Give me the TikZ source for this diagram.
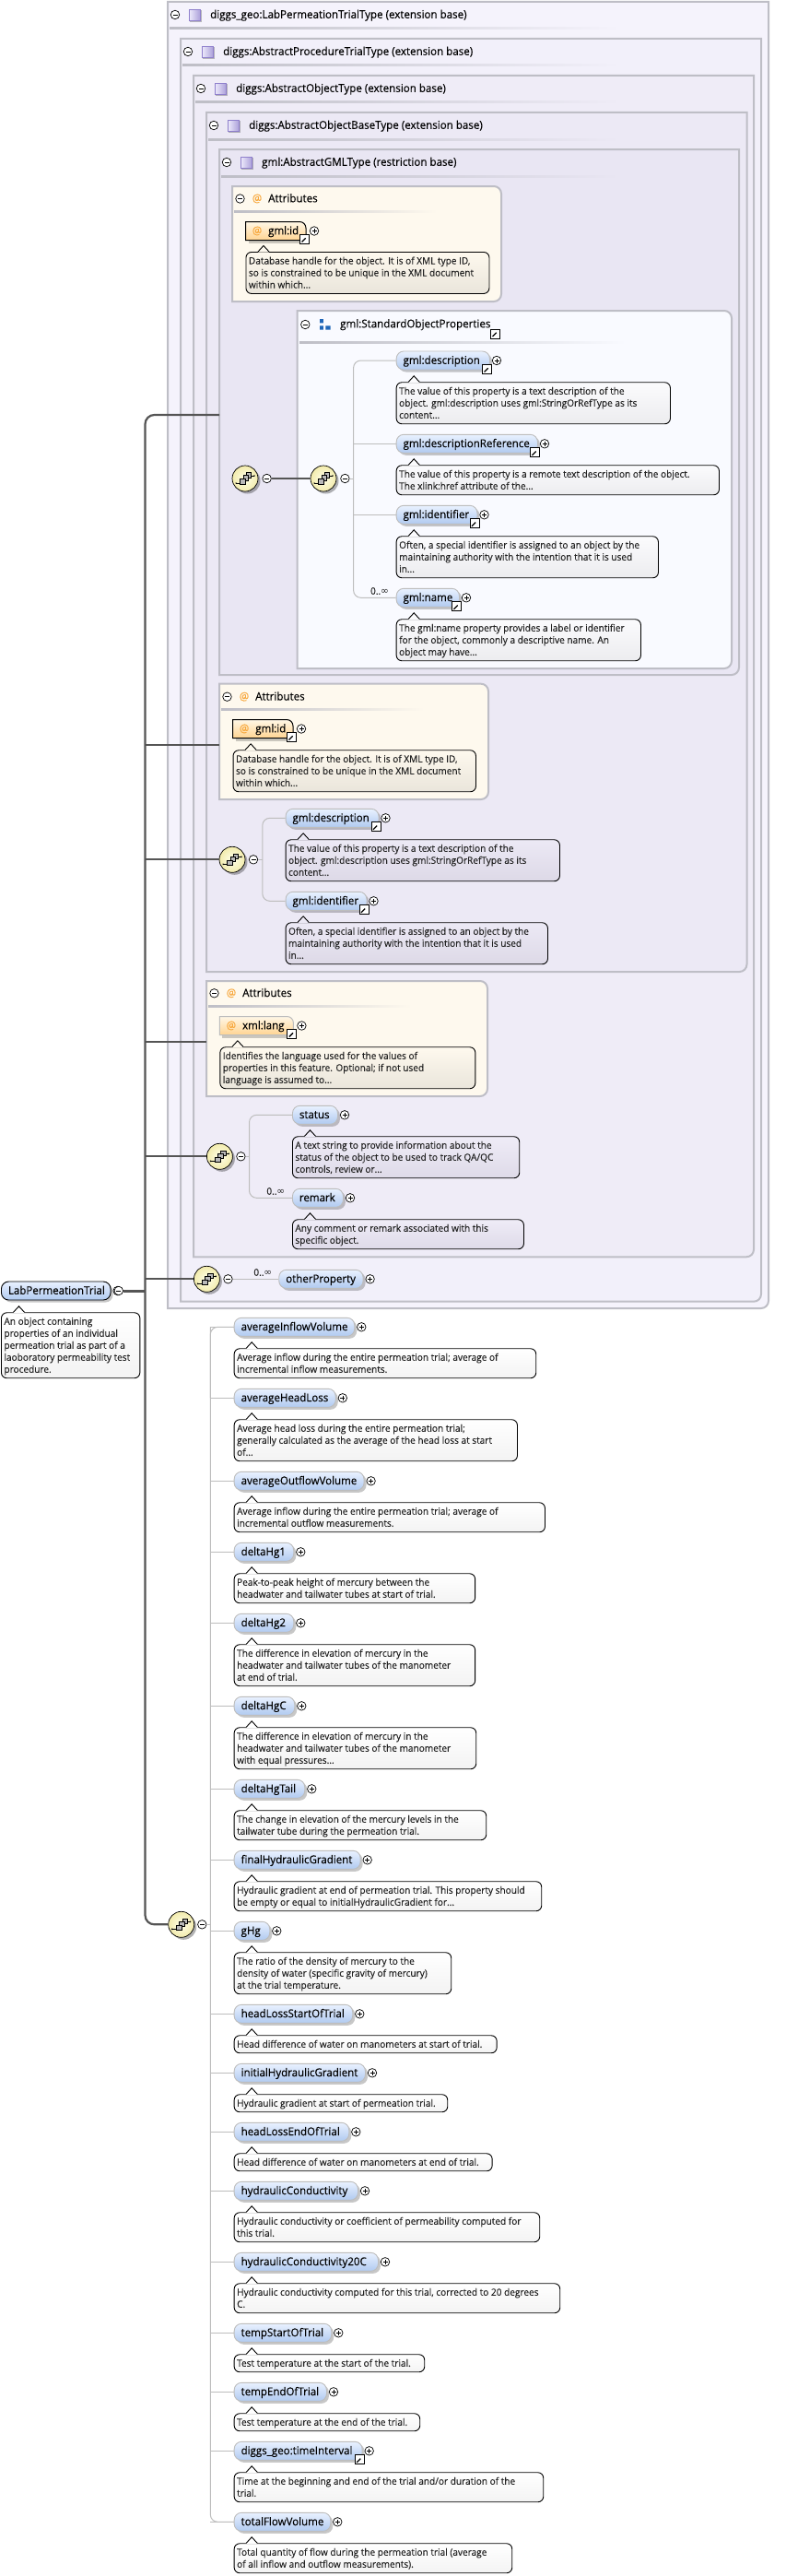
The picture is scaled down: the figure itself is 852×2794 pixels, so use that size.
\documentclass[tikz,border=0pt]{standalone}
\usepackage{fontspec}
\usetikzlibrary{shadows,calc}
\setmainfont{Open Sans}
\newfontfamily\cmtf[FakeStretch=0.96,FakeBold=0.08]{Open Sans}
\newfontfamily\namf[FakeStretch=0.96,FakeBold=0.15]{Open Sans}
\newfontfamily\ttlf[FakeStretch=0.965,FakeBold=0.12]{Open Sans}
\newfontfamily\inff{DejaVu Sans}
\newcommand\cmtfont{\cmtf\fontsize{10.5}{13}\selectfont}
\newcommand\namfont{\namf\fontsize{12}{14}\selectfont}
\newcommand\ttlfont{\ttlf\fontsize{12}{14}\selectfont}
\newcommand\occtext{0..{\inff ∞}}
\newcommand\hexc[1]{\definecolor{#1}{HTML}{#1}}
\hexc{E9F1FF}\hexc{B0CAF0}\hexc{FFFFEA}\hexc{F2EBAC}\hexc{8F80CC}\hexc{EDEAFB}\hexc{A99DD8}
\hexc{FFF7E6}\hexc{FFD492}\hexc{FBFBFD}\hexc{ECECEF}\hexc{ECE9F5}\hexc{DDD9E7}\hexc{EFECF7}\hexc{DEDAE8}\hexc{F3F3F3}\hexc{1F66B8}
\definecolor{frmline}{HTML}{BEBEC6}
\definecolor{busc}{HTML}{555555}
\definecolor{treec}{HTML}{BDBDBD}
\definecolor{bgA}{HTML}{F5F3FC}
\definecolor{bgB}{HTML}{F2F0FA}
\definecolor{bgC}{HTML}{EFECF7}
\definecolor{bgD}{HTML}{ECE9F5}
\definecolor{bgE}{HTML}{E9E6F3}
\definecolor{cream}{HTML}{FEF9EE}
\definecolor{sop}{HTML}{F9FAFF}
\definecolor{orng}{HTML}{F8A83C}
\definecolor{txtc}{HTML}{222222}
\colorlet{cmttop}{white}\colorlet{cmtbot}{white}
\tikzset{
  frmp/.style={draw=frmline,line width=2pt},
  elembox/.style={draw=#1,line width=.9pt,rounded corners=8pt,top color=E9F1FF,bottom color=B0CAF0,
    anchor=west,inner xsep=7.5pt,inner ysep=0pt,minimum height=20pt,font=\namfont,
    drop shadow={shadow xshift=2.5pt,shadow yshift=-2.5pt,fill=black,opacity=.22}},
  attrtext/.style={anchor=west,inner xsep=0pt,inner ysep=0pt,font=\namfont},
  cmtbox/.style={draw=black,line width=.9pt,rounded corners=6pt,top color=cmttop,bottom color=cmtbot,
    anchor=north west,inner xsep=3pt,inner ysep=2pt,font=\cmtfont,text=txtc},
  pmc/.style={circle,draw=black,line width=.7pt,fill=white,minimum size=9.5pt,inner sep=0pt},
  plusc/.style={pmc,path picture={
    \draw[line width=.6pt] ([xshift=-2.5pt]path picture bounding box.center)--([xshift=2.5pt]path picture bounding box.center);
    \draw[line width=.6pt] ([yshift=-2.5pt]path picture bounding box.center)--([yshift=2.5pt]path picture bounding box.center);}},
  minusc/.style={pmc,path picture={
    \draw[line width=.6pt] ([xshift=-2.5pt]path picture bounding box.center)--([xshift=2.5pt]path picture bounding box.center);}},
  scut/.style={rectangle,draw=black,line width=1pt,fill=white,minimum size=10pt,inner sep=0pt,path picture={
    \draw[line width=1.3pt] ([xshift=-3pt,yshift=-3pt]path picture bounding box.center)--([xshift=1.5pt,yshift=1.5pt]path picture bounding box.center);
    \fill ([xshift=3.6pt,yshift=3.6pt]path picture bounding box.center)--([xshift=-.8pt,yshift=3.4pt]path picture bounding box.center)--([xshift=3.4pt,yshift=-.8pt]path picture bounding box.center)--cycle;}},
  seqc/.style={circle,draw=black,line width=.7pt,inner color=FFFFEA,outer color=F2EBAC,minimum size=28pt,inner sep=0pt,
    drop shadow={shadow xshift=2.5pt,shadow yshift=-2.5pt,fill=black,opacity=.3}},
  typeic/.style={rectangle,draw=8F80CC,line width=.9pt,left color=EDEAFB,right color=A99DD8,minimum size=12.5pt,inner sep=0pt,
    drop shadow={shadow xshift=1.2pt,shadow yshift=-1.2pt,fill=black,opacity=.25}},
  busl/.style={draw=busc,line width=2.2pt},
  treel/.style={draw=treec,line width=1pt},
  ttl/.style={anchor=west,inner sep=0pt,font=\ttlfont},
  atsym/.style={inner sep=0pt,font=\ttlfont,text=orng},
  occ/.style={inner sep=0pt,font=\cmtfont,text=txtc},
}
\newcommand\lowered[1]{\strut\raisebox{-1pt}{#1}}
\newcommand\frm[6]{% l t r b fill topR
  \pgfmathsetmacro\kA{#6*0.45}\pgfmathsetmacro\rA{#3-#6}\pgfmathsetmacro\tA{#2+#6}
  \pgfmathsetmacro\rB{#3-\kA}\pgfmathsetmacro\tB{#2+\kA}
  \pgfmathsetmacro\bA{#4-8}\pgfmathsetmacro\rC{#3-8}\pgfmathsetmacro\bB{#4-3.6}\pgfmathsetmacro\rD{#3-3.6}
  \draw[frmp,fill=#5] (#1,#2) -- (\rA,#2) .. controls (\rB,#2) and (#3,\tB) .. (#3,\tA) -- (#3,\bA)
    .. controls (#3,\bB) and (\rD,#4) .. (\rC,#4) -- (#1,#4) -- cycle;}
\newcommand\ruleline[4]{% x1 x2 y bg
  \shade[left color=frmline,right color=#4] (#1,#3) rectangle (#2,#3+2);}
\newcommand\frmtitle[5]{% name l y text bg
  \pgfmathsetmacro\xa{#2+8}\pgfmathsetmacro\xb{#2+29.5}\pgfmathsetmacro\xc{#2+46}\pgfmathsetmacro\xd{#2+2}
  \node[minusc] (#1-m) at (\xa,#3) {};
  \node[typeic] (#1-i) at (\xb,#3+.5) {};
  \node[ttl] (#1-t) at (\xc,#3) {\lowered{#4}};
  \ruleline{\xd}{672}{#3+14}{#5}}
\newcommand\attrtitle[3]{% name l y
  \pgfmathsetmacro\xa{#2+8.5}\pgfmathsetmacro\xb{#2+27}\pgfmathsetmacro\xc{#2+39}\pgfmathsetmacro\xd{#2+2}\pgfmathsetmacro\xe{#2+222}
  \node[minusc] (#1-m) at (\xa,#3) {};
  \node[atsym] (#1-at) at (\xb,#3) {@};
  \node[ttl] (#1-t) at (\xc,#3) {\lowered{Attributes}};
  \ruleline{\xd}{\xe}{#3+13}{cream}}
\newcommand\elem[6][treec]{% [border] name xl xr yc text  (plus at xr+8)
  \pgfmathsetmacro\tw{#4-#3-15}\pgfmathsetmacro\px{#4+8}
  \node[elembox=#1] (#2) at (#3,#5) {\makebox[\tw pt][l]{\lowered{#6}}};
  \node[plusc] (#2-p) at (\px,#5) {};}
\newcommand\scutat[3]{% owner xr yc
  \pgfmathsetmacro\sx{#2-2.5}\pgfmathsetmacro\sy{#3+9.5}
  \node[scut] (#1-s) at (\sx,\sy) {};}
\newcommand\attrel[6]{% border name xl xr yc text
  \pgfmathsetmacro\tp{#5-10}\pgfmathsetmacro\bt{#5+10}\pgfmathsetmacro\ra{#4-7}\pgfmathsetmacro\tb{#5-3}\pgfmathsetmacro\rb{#4-3}\pgfmathsetmacro\tc{#5-7}
  \pgfmathsetmacro\atx{#3+12.5}\pgfmathsetmacro\nx{#3+24.5}\pgfmathsetmacro\px{#4+9}\pgfmathsetmacro\sdx{#3+3}\pgfmathsetmacro\sdy{#5+13}\pgfmathsetmacro\sdr{#4+2}
  \fill[black,opacity=.2] (\sdx,\bt) rectangle (\sdr,\sdy);
  \shade[top color=FFF7E6,bottom color=FFD492] (#3,\tp) -- (\ra,\tp) .. controls (\rb,\tp) and (#4,\tc) .. (#4,\tb) -- (#4,\bt) -- (#3,\bt) -- cycle;
  \draw[draw=#1,line width=1pt] (#3,\tp) -- (\ra,\tp) .. controls (\rb,\tp) and (#4,\tc) .. (#4,\tb) -- (#4,\bt) -- (#3,\bt) -- cycle;
  \node[atsym] (#2-at) at (\atx,#5) {@};
  \node[attrtext] (#2) at (\nx,#5) {\lowered{#6}};
  \node[plusc] (#2-p) at (\px,#5) {};
  \pgfmathsetmacro\sx{#4-1.5}\pgfmathsetmacro\sy{#5+9}
  \node[scut] (#2-s) at (\sx,\sy) {};}
\newcommand\cmt[5]{% name xl xr top text(tabular rows)
  \pgfmathsetmacro\tw{#3-#2-6}
  \pgfmathsetmacro\pa{#2+13.5}\pgfmathsetmacro\pb{#2+19.5}\pgfmathsetmacro\pc{#2+25.5}\pgfmathsetmacro\pt{#4-6.5}\pgfmathsetmacro\pd{#4+.7}
  \node[cmtbox] (#1) at (#2,#4) {\makebox[\tw pt][l]{\begin{tabular}{@{}l@{}}\rule{0pt}{11.1pt}#5\end{tabular}}};
  \fill[cmttop] (\pa,\pd) -- (\pb,\pt) -- (\pc,\pd) -- cycle;
  \draw[black,line width=.9pt] (\pa,#4) -- (\pb,\pt) -- (\pc,#4);}
\newcommand\seqn[3]{% name x y
  \node[seqc] (#1) at (#2,#3) {};
  \begin{scope}[shift={(#2,#3)}]
    \draw[black,line width=.6pt] (-10,5) -- (-5,5) (5,-3) -- (10,-3);
    \fill[black] (-10.5,4.3) rectangle (-9.3,5.7) (9.3,-3.7) rectangle (10.5,-2.3);
    \draw[black,line width=.5pt,fill=gray!55] (1.3,-6.5) rectangle (6.7,-1);
    \draw[black,line width=.5pt,fill=gray!55] (-2,-3.5) rectangle (3.5,2);
    \draw[black,line width=.5pt,fill=gray!55] (-5.3,0.7) rectangle (0.7,6.3);
  \end{scope}}
\begin{document}
\begin{tikzpicture}[x=1pt,y=-1pt]
\useasboundingbox (0,0) rectangle (852,2794);
\fill[white] (0,0) rectangle (852,2794);
% nested frames
\frm{182}{2}{834}{1419}{bgA}{0}
\frmtitle{fA}{182}{16}{diggs\_geo:LabPermeationTrialType (extension base)}{bgA}
\frm{196}{42}{826}{1411.7}{bgB}{0}
\frmtitle{fB}{196}{56}{diggs:AbstractProcedureTrialType (extension base)}{bgB}
\frm{210}{82}{818}{1363.3}{bgC}{0}
\frmtitle{fC}{210}{96}{diggs:AbstractObjectType (extension base)}{bgC}
\frm{224}{122}{810.5}{1054}{bgD}{0}
\frmtitle{fD}{224}{136}{diggs:AbstractObjectBaseType (extension base)}{bgD}
\frm{238}{162}{802}{732}{bgE}{0}
\frmtitle{fE}{238}{176}{gml:AbstractGMLType (restriction base)}{bgE}
% attributes 1
\frm{252}{202}{544}{327}{cream}{8}
\attrtitle{aA}{252}{215.5}
\attrel{black}{idA}{266.5}{332}{250.5}{gml:id}
\colorlet{cmttop}{cream}\colorlet{cmtbot}{cream!92!black}
\cmt{idAc}{266.5}{530.5}{273}{Database handle for the object. It is of XML type ID,\\so is constrained to be unique in the XML document\\within which...}
% StandardObjectProperties
\frm{322.7}{337}{794}{725}{sop}{8}
\node[minusc] (sopm) at (331.3,352) {};
\fill[1F66B8] (347,346) rectangle (350.8,350.3) (347,353.3) rectangle (350.8,357.7) (353.3,353.3) rectangle (358.7,357.7);
\node[ttl] (sopt) at (369,351.5) {\lowered{gml:StandardObjectProperties}};
\node[scut] (sops) at (537.5,362) {};
\ruleline{325}{679}{370}{sop}
\coordinate (tAx) at (383.6,0);
\seqn{sqA}{266}{519}
\node[minusc] (sqAm) at (289.6,519) {};
\seqn{sqB}{351}{519}
\node[minusc] (sqBm) at (374.4,519) {};
\draw[busl,line width=1.8pt] (sqAm.east) -- (sqB.west);
\colorlet{cmttop}{FBFBFD}\colorlet{cmtbot}{ECECEF}
\elem{eDesc}{429.7}{531}{391}{gml:description}\scutat{eDesc}{531}{391}
\cmt{eDescc}{429.7}{727}{414.3}{The value of this property is a text description of the\\object. gml:description uses gml:StringOrRefType as its\\content...}
\elem{eDrf}{429.7}{583}{481.3}{gml:descriptionReference}\scutat{eDrf}{583}{481.3}
\cmt{eDrfc}{429.7}{780}{504.3}{The value of this property is a remote text description of the object.\\The xlink:href attribute of the...}
\elem{eIden}{429.7}{517.5}{558.3}{gml:identifier}\scutat{eIden}{517.5}{558.3}
\cmt{eIdenc}{429.7}{714}{581.3}{Often, a special identifier is assigned to an object by the\\maintaining authority with the intention that it is used\\in...}
\elem{eName}{429.7}{498}{648.3}{gml:name}\scutat{eName}{498}{648.3}
\cmt{eNamec}{429.7}{695}{671.3}{The gml:name property provides a label or identifier\\for the object, commonly a descriptive name. An\\object may have...}
\node[occ] (oA) at (412,641) {\occtext};
\draw[treel,rounded corners=8pt] (eDesc.west) -- (eDesc.west -| tAx) -- (eName.west -| tAx) -- (eName.west);
\draw[treel] (eDrf.west) -- (eDrf.west -| tAx);
\draw[treel] (eIden.west) -- (eIden.west -| tAx);
\draw[treel] (sqBm.east) -- (sqBm.east -| tAx);
% attributes 2
\frm{238}{741.7}{530}{867}{cream}{8}
\attrtitle{aB}{238}{755.7}
\attrel{black}{idB}{252.6}{318}{790.5}{gml:id}
\colorlet{cmttop}{cream}\colorlet{cmtbot}{cream!92!black}
\cmt{idBc}{252.6}{516}{813.3}{Database handle for the object. It is of XML type ID,\\so is constrained to be unique in the XML document\\within which...}
% group 3
\coordinate (tBx) at (284.8,0);
\seqn{sqC}{252}{932.3}
\node[minusc] (sqCm) at (275,932.3) {};
\colorlet{cmttop}{ECE9F5}\colorlet{cmtbot}{DDD9E7}
\elem{fDesc}{309.6}{410.5}{887.3}{gml:description}\scutat{fDesc}{410.5}{887.3}
\cmt{fDescc}{309.6}{607}{910.3}{The value of this property is a text description of the\\object. gml:description uses gml:StringOrRefType as its\\content...}
\elem{fIden}{309.6}{397.5}{977.3}{gml:identifier}\scutat{fIden}{397.5}{977.3}
\cmt{fIdenc}{309.6}{594}{1000.3}{Often, a special identifier is assigned to an object by the\\maintaining authority with the intention that it is used\\in...}
\draw[treel,rounded corners=8pt] (fDesc.west) -- (fDesc.west -| tBx) -- (fIden.west -| tBx) -- (fIden.west);
\draw[treel] (sqCm.east) -- (sqCm.east -| tBx);
% attributes 3
\frm{224}{1064}{529}{1189}{cream}{8}
\attrtitle{aC}{224}{1077.3}
\attrel{treec}{lang}{238.4}{318.4}{1112.5}{xml:lang}
\colorlet{cmttop}{cream}\colorlet{cmtbot}{cream!92!black}
\cmt{langc}{238.4}{515.4}{1135.3}{Identifies the language used for the values of\\properties in this feature. Optional; if not used\\language is assumed to...}
% group 4
\coordinate (tCx) at (270.5,0);
\seqn{sqD}{238.4}{1254.3}
\node[minusc] (sqDm) at (261.4,1254.3) {};
\colorlet{cmttop}{EFECF7}\colorlet{cmtbot}{DEDAE8}
\elem{stat}{317}{366}{1209.3}{status}
\cmt{statc}{317}{563.3}{1232.3}{A text string to provide information about the\\status of the object to be used to track QA/QC\\controls, review or...}
\elem{rem}{317}{372}{1299.3}{remark}
\cmt{remc}{317}{568}{1322.3}{Any comment or remark associated with this\\specific object.}
\node[occ] (oB) at (299.3,1292) {\occtext};
\draw[treel,rounded corners=8pt] (stat.west) -- (stat.west -| tCx) -- (rem.west -| tCx) -- (rem.west);
\draw[treel] (sqDm.east) -- (sqDm.east -| tCx);
% otherProperty
\seqn{sqE}{224.4}{1387.3}
\node[minusc] (sqEm) at (247.5,1387.3) {};
\elem{oth}{302.3}{393.6}{1387.3}{otherProperty}
\node[occ] (oC) at (285.3,1380) {\occtext};
\draw[treel] (sqEm.east) -- (oth.west);
% root
\elem[black]{root}{1}{119.6}{1400}{LabPermeationTrial}
\node[minusc] (rootm) at (128.8,1400) {};
\colorlet{cmttop}{white}\colorlet{cmtbot}{F3F3F3}
\cmt{rootc}{1}{151.4}{1423.3}{An object containing\\properties of an individual\\permeation trial as part of a\\laoboratory permeability test\\procedure.}
% bus
\coordinate (busx) at (157.5,0);
\coordinate (portE) at (238,450);
\coordinate (portB) at (238,808.3);
\coordinate (portC) at (224,1130.3);
\seqn{sqF}{196.7}{2087.3}
\node[minusc] (sqFm) at (219.3,2087.3) {};
\draw[busl,rounded corners=10pt] (portE) -- (portE -| busx) -- (sqF.west -| busx) -- (sqF.west);
\draw[busl,line width=3pt] (rootm.east) -- (rootm.east -| busx);
\draw[busl] (portB -| busx) -- (portB);
\draw[busl] (portC -| busx) -- (portC);
\draw[busl] (sqC.west -| busx) -- (sqC.west);
\draw[busl] (sqD.west -| busx) -- (sqD.west);
\draw[busl] (sqE.west -| busx) -- (sqE.west);
% main list
\coordinate (tDx) at (228.3,0);
\newcommand\lst[6]{\elem{#1}{253.7}{#2}{#3}{#4}\cmt{#1c}{253.7}{#5}{#3+23}{#6}\draw[treel] (#1.west) -- (#1.west -| tDx);}
\lst{l01}{384.3}{1439.3}{averageInflowVolume}{581.3}{Average inflow during the entire permeation trial; average of\\incremental inflow measurements.}
\lst{l02}{363.8}{1516.3}{averageHeadLoss}{561}{Average head loss during the entire permeation trial;\\generally calculated as the average of the head loss at start\\of...}
\lst{l03}{394.6}{1606.3}{averageOutflowVolume}{591}{Average inflow during the entire permeation trial; average of\\incremental outflow measurements.}
\lst{l04}{318.3}{1683.3}{deltaHg1}{515.2}{Peak-to-peak height of mercury between the\\headwater and tailwater tubes at start of trial.}
\lst{l05}{318.3}{1760.3}{deltaHg2}{515.2}{The difference in elevation of mercury in the\\headwater and tailwater tubes of the manometer\\at end of trial.}
\lst{l06}{319.3}{1850.3}{deltaHgC}{516.3}{The difference in elevation of mercury in the\\headwater and tailwater tubes of the manometer\\with equal pressures...}
\lst{l07}{330.3}{1940.3}{deltaHgTail}{527.3}{The change in elevation of the mercury levels in the\\tailwater tube during the permeation trial.}
\lst{l08}{390.7}{2017.3}{finalHydraulicGradient}{587.3}{Hydraulic gradient at end of permeation trial. This property should\\be empty or equal to initialHydraulicGradient for...}
\lst{l09}{292.3}{2094.3}{gHg}{489.3}{The ratio of the density of mercury to the\\density of water (specific gravity of mercury)\\at the trial temperature.}
\lst{l10}{382.3}{2184.3}{headLossStartOfTrial}{538.7}{Head difference of water on manometers at start of trial.}
\lst{l11}{396}{2248.3}{initialHydraulicGradient}{485.3}{Hydraulic gradient at start of permeation trial.}
\lst{l12}{378.3}{2312.3}{headLossEndOfTrial}{533.7}{Head difference of water on manometers at end of trial.}
\lst{l13}{388}{2376.3}{hydraulicConductivity}{585.3}{Hydraulic conductivity or coefficient of permeability computed for\\this trial.}
\lst{l14}{410}{2453.3}{hydraulicConductivity20C}{607.3}{Hydraulic conductivity computed for this trial, corrected to 20 degrees\\C.}
\lst{l15}{359.3}{2530.3}{tempStartOfTrial}{460.3}{Test temperature at the start of the trial.}
\lst{l16}{354}{2594.3}{tempEndOfTrial}{455.3}{Test temperature at the end of the trial.}
\lst{l17}{392.7}{2658.3}{diggs\_geo:timeInterval}{589.3}{Time at the beginning and end of the trial and/or duration of the\\trial.}
\scutat{l17}{392.7}{2658.3}
\lst{l18}{358.3}{2735.3}{totalFlowVolume}{555.3}{Total quantity of flow during the permeation trial (average\\of all inflow and outflow measurements).}
\draw[treel,rounded corners=8pt] (l01.west -| tDx) -- (l18.west -| tDx) -- (l18.west);
\draw[treel,rounded corners=8pt] (l01.west) -- (l01.west -| tDx) -- (l02.west -| tDx);
\draw[treel] (sqFm.east) -- (sqFm.east -| tDx);
\end{tikzpicture}
\end{document}
